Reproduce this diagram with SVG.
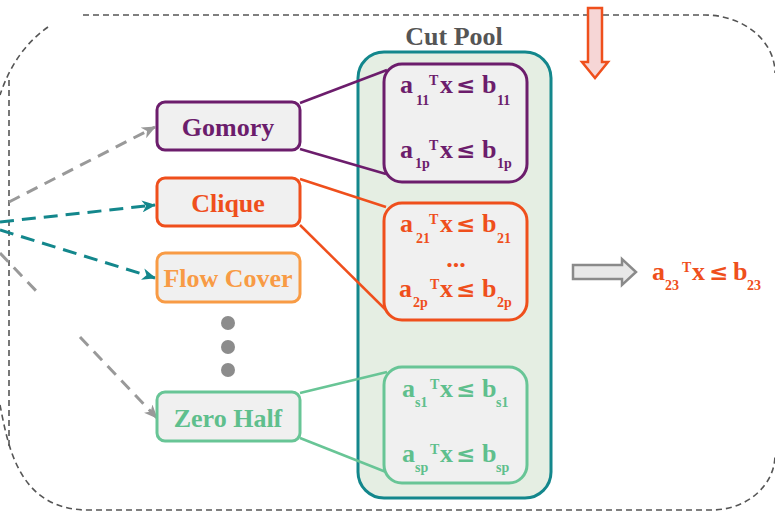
<svg xmlns="http://www.w3.org/2000/svg" width="775" height="511" viewBox="0 0 775 511">
  <style>
    .frame { fill: none; stroke: #555; stroke-width: 1.6; stroke-dasharray: 6 4; }
    .node rect { fill: #f0f0f0; stroke-width: 3; }
    .lbl { font-family: "Liberation Serif", "Times New Roman", serif; font-weight: bold; font-size: 26px; text-anchor: middle; }
    .eq { font-family: "Liberation Serif", "Times New Roman", serif; font-weight: bold; font-size: 26px; }
    .eq .s { font-size: 14px; }
    .eq .le { font-family: "DejaVu Serif", serif; font-size: 23px; }
    .gray-arrow { fill: none; stroke: #999; stroke-width: 3; stroke-dasharray: 12 8; }
    .teal-arrow { fill: none; stroke: #13878c; stroke-width: 3; stroke-dasharray: 14 8; }
    .link { fill: none; stroke-width: 2.5; }
    .purple { stroke: #6c1d6c; fill: #6c1d6c; }
    .red { stroke: #ef4f1c; fill: #ef4f1c; }
    .amber { stroke: #f89b45; fill: #f89b45; }
    .green { stroke: #68c596; fill: #68c596; }
  </style>
  <defs>
    <marker id="headGray" markerWidth="14" markerHeight="12" refX="13" refY="6" orient="auto" markerUnits="userSpaceOnUse">
      <path d="M0,0 L14,6 L0,12 L4,6 z" fill="#999"/>
    </marker>
    <marker id="headTeal" markerWidth="14" markerHeight="12" refX="13" refY="6" orient="auto" markerUnits="userSpaceOnUse">
      <path d="M0,0 L14,6 L0,12 L4,6 z" fill="#13878c"/>
    </marker>
  </defs>

  <rect width="775" height="511" fill="#ffffff"/>

  <!-- dashed outer loop -->
  <g id="frame">
    <path class="frame" d="M83,15 H705 A70,58 0 0 1 775,73"/>
    <path class="frame" d="M48,27 Q15,50 0,95"/>
    <path class="frame" d="M9,80 V447"/>
    <path class="frame" d="M0,405 C8,445 18,510 88,510 H712 A63,55 0 0 0 775,455"/>
  </g>

  <!-- cut pool container -->
  <g id="cut-pool">
    <rect x="358" y="52" width="193" height="446" rx="26" fill="#e5eee3" stroke="#13878c" stroke-width="3"/>
    <text class="lbl" x="454" y="45" fill="#555">Cut Pool</text>
  </g>

  <!-- connectors -->
  <g id="connectors">
    <line class="gray-arrow" x1="9" y1="202" x2="155" y2="127" marker-end="url(#headGray)"/>
    <line class="teal-arrow" x1="0" y1="222" x2="155" y2="205" marker-end="url(#headTeal)"/>
    <line class="teal-arrow" x1="0" y1="230" x2="155" y2="278" marker-end="url(#headTeal)"/>
    <line class="gray-arrow" x1="0" y1="253" x2="40" y2="295"/>
    <line class="gray-arrow" x1="80" y1="337" x2="157" y2="418" marker-end="url(#headGray)"/>

    <line class="link purple" x1="300" y1="103" x2="387" y2="70"/>
    <line class="link purple" x1="300" y1="149" x2="386" y2="174"/>
    <line class="link red" x1="300" y1="179" x2="386" y2="207"/>
    <line class="link red" x1="300" y1="225" x2="387" y2="311"/>
    <line class="link green" x1="300" y1="393" x2="387" y2="372"/>
    <line class="link green" x1="300" y1="438" x2="386" y2="472"/>
  </g>

  <!-- separator nodes -->
  <g id="gomory" class="node">
    <rect x="157" y="102" width="143" height="48" rx="8" stroke="#6c1d6c"/>
    <text class="lbl" x="228" y="136" fill="#6c1d6c">Gomory</text>
  </g>
  <g id="clique" class="node">
    <rect x="157" y="178" width="143" height="48" rx="8" stroke="#ef4f1c"/>
    <text class="lbl" x="228" y="212" fill="#ef4f1c">Clique</text>
  </g>
  <g id="flow-cover" class="node">
    <rect x="157" y="253" width="143" height="49" rx="8" stroke="#f89b45"/>
    <text class="lbl" x="228" y="287" fill="#f89b45">Flow Cover</text>
  </g>
  <g id="more">
    <circle cx="228" cy="323" r="7" fill="#8c8c8c"/>
    <circle cx="228" cy="347" r="7" fill="#8c8c8c"/>
    <circle cx="228" cy="370" r="7" fill="#8c8c8c"/>
  </g>
  <g id="zero-half" class="node">
    <rect x="157" y="392" width="143" height="49" rx="8" stroke="#68c596"/>
    <text class="lbl" x="228" y="427" fill="#5fbf8d">Zero Half</text>
  </g>

  <!-- cut groups inside the pool -->
  <g id="cuts-gomory">
    <rect x="384" y="64" width="143" height="118" rx="18" fill="#f0f0f0" stroke="#6c1d6c" stroke-width="3"/>
    <text class="eq" fill="#6c1d6c">
      <tspan x="400" y="93">a</tspan><tspan class="s" x="416" y="105">11</tspan><tspan class="s" x="429" y="85">T</tspan><tspan x="440" y="93">x</tspan><tspan class="le" x="456" y="93">≤</tspan><tspan x="482" y="93">b</tspan><tspan class="s" x="497" y="105">11</tspan>
    </text>
    <text class="eq" fill="#6c1d6c">
      <tspan x="400" y="158">a</tspan><tspan class="s" x="415" y="168">1p</tspan><tspan class="s" x="429" y="150">T</tspan><tspan x="440" y="158">x</tspan><tspan class="le" x="456" y="158">≤</tspan><tspan x="482" y="158">b</tspan><tspan class="s" x="497" y="168">1p</tspan>
    </text>
  </g>
  <g id="cuts-clique">
    <rect x="384" y="203" width="143" height="117" rx="18" fill="#f0f0f0" stroke="#ef4f1c" stroke-width="3"/>
    <text class="eq" fill="#ef4f1c">
      <tspan x="400" y="232">a</tspan><tspan class="s" x="416" y="243">21</tspan><tspan class="s" x="429" y="224">T</tspan><tspan x="440" y="232">x</tspan><tspan class="le" x="456" y="232">≤</tspan><tspan x="482" y="232">b</tspan><tspan class="s" x="497" y="243">21</tspan>
    </text>
    <text class="eq" fill="#ef4f1c" x="456" y="267" text-anchor="middle">...</text>
    <text class="eq" fill="#ef4f1c">
      <tspan x="399" y="297">a</tspan><tspan class="s" x="413" y="307">2p</tspan><tspan class="s" x="430" y="289">T</tspan><tspan x="440" y="297">x</tspan><tspan class="le" x="456" y="297">≤</tspan><tspan x="482" y="297">b</tspan><tspan class="s" x="497" y="307">2p</tspan>
    </text>
  </g>
  <g id="cuts-zero-half">
    <rect x="384" y="367" width="143" height="116" rx="18" fill="#f0f0f0" stroke="#68c596" stroke-width="3"/>
    <text class="eq" fill="#5fbf8d">
      <tspan x="402" y="397">a</tspan><tspan class="s" x="415" y="407">s1</tspan><tspan class="s" x="430" y="389">T</tspan><tspan x="440" y="397">x</tspan><tspan class="le" x="456" y="397">≤</tspan><tspan x="482" y="397">b</tspan><tspan class="s" x="496" y="407">s1</tspan>
    </text>
    <text class="eq" fill="#5fbf8d">
      <tspan x="402" y="462">a</tspan><tspan class="s" x="415" y="472">sp</tspan><tspan class="s" x="430" y="454">T</tspan><tspan x="440" y="462">x</tspan><tspan class="le" x="456" y="462">≤</tspan><tspan x="482" y="462">b</tspan><tspan class="s" x="496" y="472">sp</tspan>
    </text>
  </g>

  <!-- incoming arrow at the top -->
  <g id="arrow-in">
    <polygon points="588,8 602,8 602,62 608,62 595,78 582,62 588,62" fill="#f6d6d6" stroke="#ef4f1c" stroke-width="2.5" stroke-linejoin="miter"/>
  </g>

  <!-- selected cut -->
  <g id="arrow-out">
    <polygon points="573,265 622,265 622,259 636,272 622,285 622,279 573,279" fill="#e8e8e8" stroke="#8a8a8a" stroke-width="2.5"/>
  </g>
  <g id="selected-cut">
    <text class="eq" fill="#ef4f1c">
      <tspan x="652" y="280">a</tspan><tspan class="s" x="665" y="290">23</tspan><tspan class="s" x="682" y="272">T</tspan><tspan x="692" y="280">x</tspan><tspan class="le" x="709" y="280">≤</tspan><tspan x="733" y="280">b</tspan><tspan class="s" x="747" y="290">23</tspan>
    </text>
  </g>
</svg>
